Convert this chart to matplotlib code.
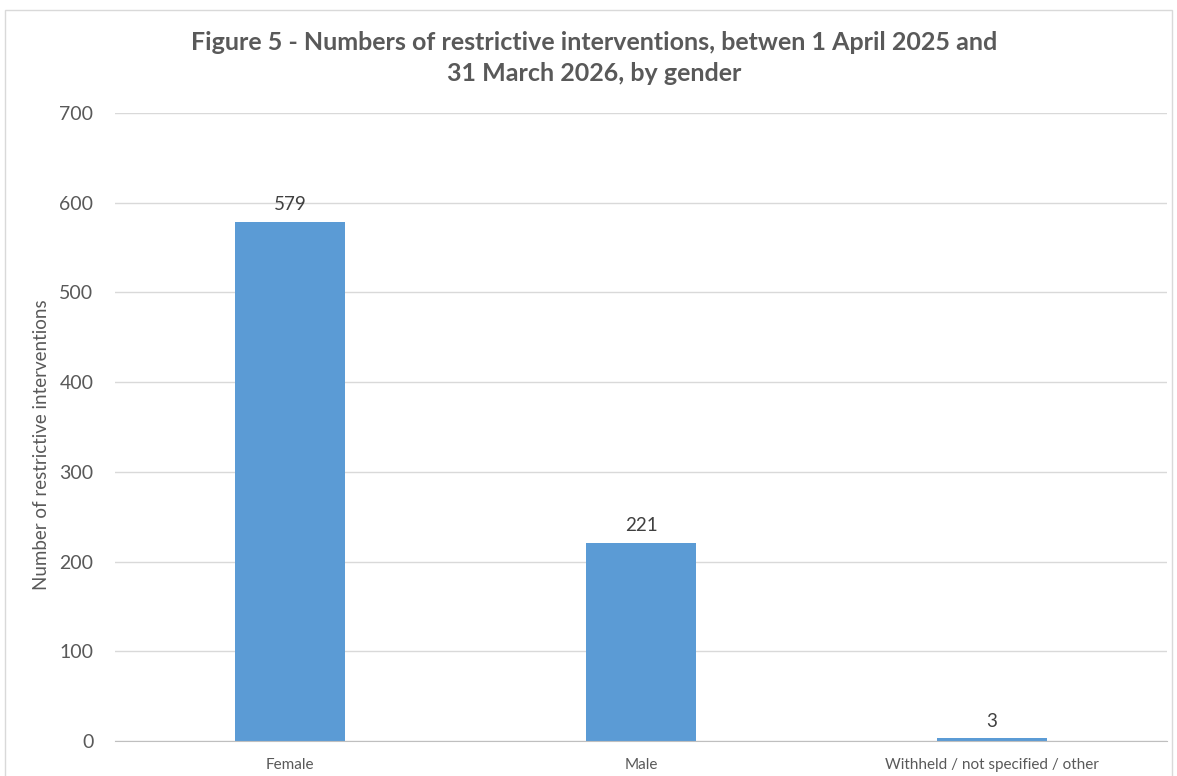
import matplotlib
matplotlib.use("Agg")
import matplotlib.pyplot as plt
from matplotlib.patches import Rectangle

categories = ["Female", "Male", "Withheld / not specified / other"]
values = [579, 221, 3]
yticks = [0, 100, 200, 300, 400, 500, 600, 700]

title = "Figure 5 - Numbers of restrictive interventions, betwen 1 April 2025 and\n31 March 2026, by gender"
ylabel = "Number of restrictive interventions"

plt.rcParams["font.family"] = ["Lato", "DejaVu Sans"]
W, H = 1177, 776
fig = plt.figure(figsize=(W / 100, H / 100), dpi=100)
fig.patch.set_facecolor("white")

# outer chart frame
fig.patches.append(Rectangle((5 / W, -0.05), (1172 - 5) / W, 1.05 - 10 / H,
                             transform=fig.transFigure, fill=False,
                             edgecolor="#d9d9d9", linewidth=1.0))

left, right, top, bottom = 115, 1167, 113, 741
ax = fig.add_axes([left / W, 1 - bottom / H, (right - left) / W, (bottom - top) / H])
text_col = "#595959"
bar_col = "#5b9bd5"

x = list(range(len(categories)))
ax.bar(x, values, width=0.314, color=bar_col, zorder=3)
for xi, v in zip(x, values):
    ax.annotate(str(v), (xi, v), xytext=(0, 6), textcoords="offset points",
                ha="center", va="bottom", fontsize=13.5, color="#404040")

ax.set_xlim(-0.5, len(categories) - 0.5)
ax.set_ylim(0, 700)
ax.set_yticks(yticks)
ax.set_yticklabels([str(t) for t in yticks], fontsize=14, color=text_col)
ax.set_xticks(x)
ax.set_xticklabels(categories, fontsize=11, color=text_col)
ax.tick_params(axis="both", length=0)
ax.tick_params(axis="y", pad=15.5)
ax.tick_params(axis="x", pad=12.5)
ax.grid(axis="y", color="#d9d9d9", linewidth=1.0, zorder=0)
for s in ["top", "right", "left"]:
    ax.spines[s].set_visible(False)
ax.spines["bottom"].set_color("#bfbfbf")
ax.spines["bottom"].set_zorder(4)

ax.set_ylabel(ylabel, fontsize=13.5, color=text_col)
ax.yaxis.set_label_coords((50 - left) / (right - left), (bottom - 445) / (bottom - top))

fig.text(594 / W, 1 - 58 / H, title, ha="center", va="center",
         fontsize=18, fontweight="bold", color=text_col, linespacing=1.4)

fig.savefig("out.png", dpi=100, facecolor="white")
